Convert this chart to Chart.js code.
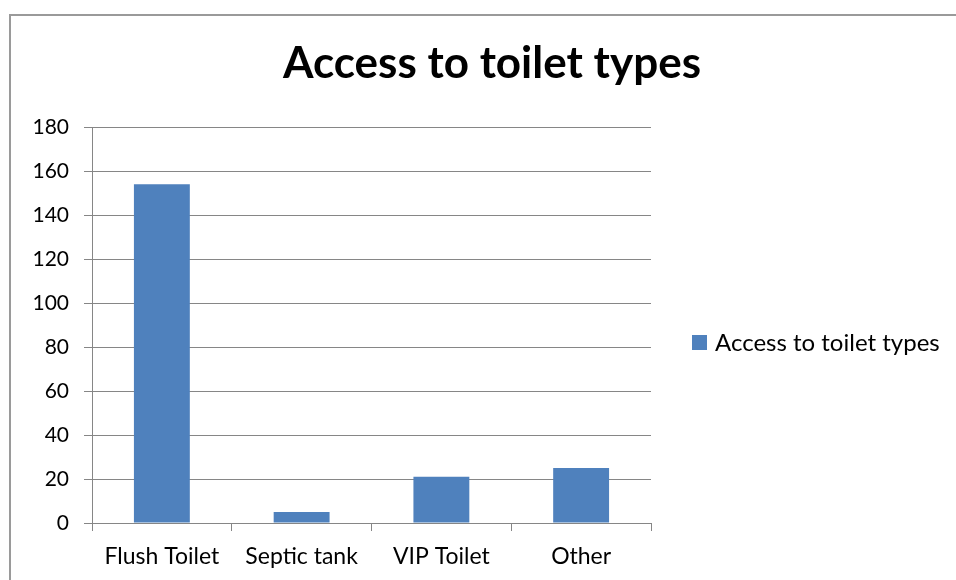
<!DOCTYPE html>
<html>
<head>
<meta charset="utf-8">
<script src="https://cdn.jsdelivr.net/npm/chart.js@4.4.1/dist/chart.umd.min.js"></script>
<style>
    html, body { margin: 0; padding: 0; background: #ffffff; }
    #wrap { width: 956px; height: 580px; }
</style>
</head>
<body>
<div id="wrap"><canvas id="chart" width="956" height="580"></canvas></div>
<script>
const chartTitle = 'Access to toilet types';
const categories = ['Flush Toilet', 'Septic tank', 'VIP Toilet', 'Other'];
const counts = [154, 5, 21, 25];
const yMin = 0;
const yMax = 180;
const yStep = 20;

const FONT = 'Lato, Calibri, "Open Sans", sans-serif';
const BAR_BLUE = '#4f81bd';
const LINE_GREY = '#868686';

// frame around the whole chart, plus the big title and the side legend
const officeFrame = {
    id: 'officeFrame',
    beforeDraw(chart) {
        const ctx = chart.ctx;
        ctx.save();
        ctx.strokeStyle = '#9a9a9a';
        ctx.lineWidth = 2;
        ctx.strokeRect(10, 15, 1000, 1000);
        ctx.restore();
    },
    afterDraw(chart) {
        const ctx = chart.ctx;
        ctx.save();
        ctx.fillStyle = '#000000';
        ctx.font = `bold 44px ${FONT}`;
        ctx.textAlign = 'center';
        ctx.textBaseline = 'alphabetic';
        ctx.fillText(chartTitle, 492, 78);

        const ds = chart.data.datasets[0];
        ctx.fillStyle = ds.backgroundColor;
        ctx.fillRect(692, 335, 15, 15);
        ctx.fillStyle = '#000000';
        ctx.font = `24px ${FONT}`;
        ctx.textAlign = 'left';
        ctx.textBaseline = 'middle';
        ctx.fillText(ds.label, 715, 343);
        ctx.restore();
    }
};

new Chart(document.getElementById('chart'), {
    type: 'bar',
    data: {
        labels: categories,
        datasets: [{
            label: chartTitle,
            data: counts,
            backgroundColor: BAR_BLUE,
            barPercentage: 0.4,
            categoryPercentage: 1.0,
        }]
    },
    options: {
        responsive: false,
        animation: false,
        layout: { padding: { top: 127, right: 305, bottom: 0, left: 0 } },
        plugins: {
            legend: { display: false },
            title: { display: false },
            tooltip: { enabled: false }
        },
        scales: {
            x: {
                offset: true,
                grid: {
                    display: true,
                    offset: true,
                    drawOnChartArea: false,
                    drawTicks: true,
                    tickLength: 8,
                    color: LINE_GREY,
                },
                border: { color: LINE_GREY },
                ticks: {
                    color: '#000000',
                    font: { family: FONT, size: 23 },
                    padding: 12,
                    maxRotation: 0,
                    autoSkip: false,
                },
                afterFit(scale) { scale.height = 57; }
            },
            y: {
                min: yMin,
                max: yMax,
                grid: {
                    color: LINE_GREY,
                    tickLength: 8,
                },
                border: { color: LINE_GREY },
                ticks: {
                    stepSize: yStep,
                    color: '#000000',
                    font: { family: FONT, size: 21 },
                    padding: 15,
                },
                afterFit(scale) { scale.width = 92; }
            }
        }
    },
    plugins: [officeFrame]
});
</script>
</body>
</html>
